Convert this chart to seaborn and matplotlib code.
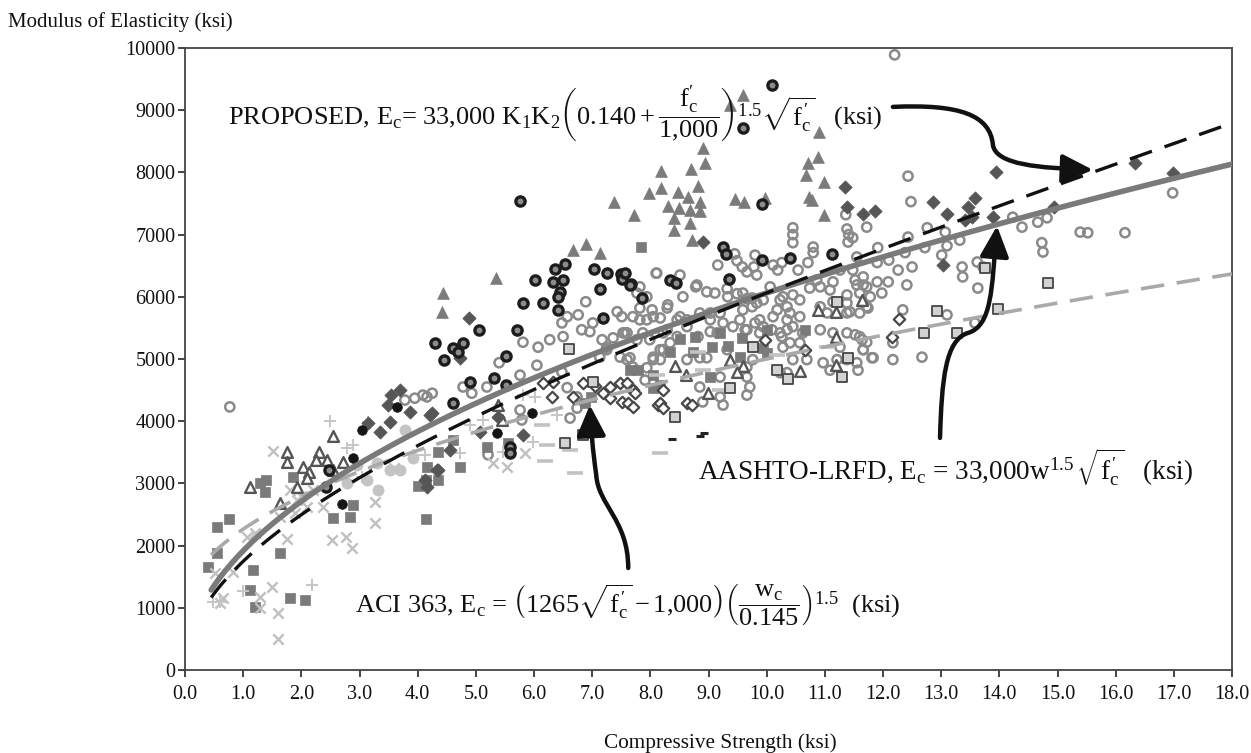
import numpy as np
import pandas as pd
import matplotlib
matplotlib.use("Agg")
import matplotlib.pyplot as plt
from matplotlib.path import Path
from matplotlib.patches import FancyArrowPatch
import seaborn as sns

# ---------------------------------------------------------------- data (ksi)
gray_rings = [
    (11.36, 7320), (10.45, 7110), (10.45, 7000), (10.45, 6870), (11.38, 7090), (11.41, 7000),
    (11.40, 6880), (10.80, 6800), (10.80, 6710), (9.45, 6690), (9.16, 6510), (9.80, 6670),
    (9.78, 6480), (9.49, 6580), (9.58, 6480), (9.66, 6400), (9.83, 6350), (10.11, 6510),
    (10.19, 6430), (10.26, 6550), (10.54, 6430), (10.71, 6550), (10.86, 6270), (11.14, 6240),
    (11.26, 6430), (11.48, 6430), (8.11, 6380), (8.51, 6350), (8.80, 6190), (8.97, 6080),
    (9.11, 6060), (9.33, 6000), (7.77, 6060), (7.43, 5760), (7.51, 5680), (7.82, 5820),
    (8.03, 5790), (8.29, 5820), (9.59, 6060), (9.75, 5980), (9.75, 5840), (9.94, 5950),
    (10.23, 5950), (10.35, 5840), (10.45, 6030), (10.57, 5950), (10.40, 5740), (10.57, 5680),
    (10.74, 6140), (10.92, 6160), (11.09, 6110), (11.38, 6030), (11.55, 6190), (9.59, 5790),
    (9.54, 5630), (9.88, 5630), (10.11, 5680), (9.20, 5740), (9.03, 5630), (8.85, 5740),
    (8.63, 5630), (8.46, 5630), (8.17, 5660), (7.94, 5630), (7.70, 5680), (8.29, 5470),
    (7.87, 5420), (7.53, 5420), (7.25, 5190), (8.34, 5260), (9.15, 5420), (9.42, 5520),
    (9.66, 5470), (9.88, 5420), (10.23, 5420), (10.62, 5420), (10.92, 5470), (11.14, 5420),
    (11.38, 5420), (11.38, 5740), (11.04, 5740), (9.32, 5150), (10.28, 5190), (10.57, 5260),
    (11.26, 5190),
    (8.78, 6160), (9.32, 6130), (9.49, 6050), (9.66, 5970), (9.83, 5900), (10.06, 6160),
    (10.28, 6000), (10.18, 5790), (10.35, 5630), (11.72, 6160), (11.38, 5900), (11.43, 5760),
    (11.60, 5740), (11.72, 5840), (7.60, 5420), (7.82, 5630), (8.05, 5680), (8.51, 5680),
    (9.03, 5740), (7.82, 6160), (7.94, 6000), (8.30, 5870), (8.56, 6000), (8.22, 5420),
    (8.46, 5360), (8.63, 5520), (8.82, 5360), (9.03, 5440), (9.25, 5580), (9.63, 5470),
    (9.80, 5580), (9.94, 5520), (10.09, 5470), (10.35, 5470), (10.45, 5520), (10.26, 5360),
    (10.40, 5260), (10.69, 4990), (10.45, 4990), (10.35, 4780), (10.23, 4780), (9.76, 4990),
    (9.66, 4870), (9.66, 4710), (9.20, 4710), (8.85, 4550), (9.20, 4390), (9.25, 4260),
    (8.90, 4310), (9.66, 4420), (9.71, 4550), (8.63, 4990), (8.85, 5020), (8.97, 5020),
    (8.22, 5150), (8.05, 4990), (7.91, 4660), (7.70, 4500), (7.60, 4990), (10.97, 4940),
    (11.09, 4820), (11.21, 4990), (11.38, 4990), (11.55, 4940), (11.57, 4820), (11.60, 5360),
    (11.72, 5270), (11.81, 5020), (11.66, 5150), (10.92, 5840), (11.14, 5920),
    (12.43, 7940), (12.48, 7530), (12.76, 7110), (13.07, 7040), (13.10, 6820), (13.01, 6670),
    (13.32, 6910), (12.72, 6790), (12.43, 6960), (12.38, 6710), (12.10, 6590), (11.91, 6790),
    (11.55, 6640), (11.48, 6950), (11.72, 7120), (12.50, 6480), (12.26, 6430), (11.90, 6550),
    (11.66, 6320), (11.52, 6270), (11.66, 6190), (11.90, 6240), (12.09, 6240), (12.41, 6190),
    (13.36, 6480), (13.37, 6320), (13.62, 6560), (13.72, 6480), (13.63, 6140), (14.23, 7280),
    (14.39, 7120), (14.66, 7200), (14.82, 7270), (14.73, 6870), (14.75, 6720), (15.39, 7040),
    (15.52, 7030), (11.60, 6060), (11.78, 6000), (11.98, 6060), (11.74, 5820), (12.34, 5790),
    (13.10, 5710), (13.58, 5580), (11.52, 5390), (11.64, 5310), (12.17, 5260), (11.66, 5150),
    (11.83, 5020), (12.17, 4990), (12.67, 5030), (16.98, 7670), (16.16, 7030), (12.20, 9890),
    (8.10, 6380), (6.89, 5920), (7.01, 5580), (6.76, 5710), (6.57, 5680), (6.48, 5580),
    (6.50, 5360), (6.82, 5470), (6.96, 5440), (7.17, 5310), (7.36, 5340), (7.56, 5420),
    (7.77, 5310), (7.99, 5310), (8.17, 5150), (8.05, 5030), (7.25, 5150), (7.13, 5030),
    (7.48, 5030), (7.65, 5020), (5.81, 5270), (6.07, 5190), (6.27, 5310), (5.40, 4940),
    (5.76, 4740), (6.05, 4900), (6.48, 4790), (6.57, 4540), (6.74, 4390), (4.78, 4550),
    (4.93, 4450), (4.16, 4390), (4.25, 4450), (5.19, 4550), (5.79, 4020), (5.76, 4180),
    (5.21, 3460), (6.62, 4050), (6.74, 4210), (7.70, 4870), (7.94, 4860), (8.17, 4990),
    (0.77, 4230), (3.78, 4340), (3.95, 4370), (4.09, 4420),
]

dark_rings = [
    (6.53, 6530), (6.36, 6450), (7.03, 6450), (7.25, 6380), (6.02, 6270), (6.33, 6240),
    (6.50, 6270), (7.50, 6370), (7.51, 6290), (7.67, 6210), (7.13, 6130), (5.81, 5900),
    (6.15, 5900), (6.45, 6080), (6.41, 6000), (6.41, 5790), (7.86, 5980), (5.05, 5470),
    (5.71, 5470), (7.19, 5660), (4.30, 5260), (4.78, 5260), (4.60, 5180), (4.70, 5110),
    (4.45, 4980), (5.52, 5050), (5.52, 4580), (5.31, 4690), (4.90, 4630), (4.60, 4290),
    (5.59, 3590), (5.59, 3490), (9.59, 8710), (9.92, 7490), (9.25, 6800), (9.30, 6690),
    (9.92, 6590), (10.40, 6620), (11.12, 6690), (7.56, 6380), (7.65, 6190), (8.34, 6270),
    (8.44, 6220), (9.35, 6290), (5.76, 7540), (10.10, 9400), (2.48, 3220), (2.42, 2940),
]

dark_dots = [
    (2.70, 2670), (2.89, 3410), (3.64, 4230), (5.97, 4130), (5.36, 3810), (3.04, 3860),
]

gray_triangles = [
    (5.35, 6300), (4.44, 6060), (4.42, 5760), (6.67, 6750), (7.13, 6700), (8.90, 8390),
    (8.94, 8150), (8.18, 8020), (8.70, 8050), (8.18, 7750), (7.98, 7670), (7.37, 7520),
    (7.72, 7310), (8.47, 7680), (8.82, 7780), (8.65, 7600), (8.30, 7460), (8.49, 7430),
    (8.68, 7400), (8.85, 7520), (8.85, 7380), (8.41, 7270), (8.68, 7190), (8.41, 7070),
    (8.72, 6910), (9.45, 7570), (9.61, 7520), (10.90, 8650), (10.88, 8250), (10.71, 8150),
    (10.68, 7960), (10.98, 7850), (10.73, 7600), (10.78, 7560), (10.98, 7310), (9.37, 9080),
    (9.60, 9250), (9.97, 7590), (6.90, 6850),
]

open_triangles = [
    (10.88, 5790), (11.19, 5760), (11.64, 5950), (11.19, 5360), (11.19, 4900), (10.57, 4810),
    (9.37, 4990), (9.59, 4890), (9.49, 4790), (8.42, 4890), (8.61, 4740), (8.99, 4450),
    (5.45, 4020), (5.38, 4260), (2.54, 3760), (1.75, 3500), (1.75, 3340), (2.03, 3260),
    (2.13, 3180), (2.30, 3500), (2.44, 3380), (2.25, 3380), (2.10, 3090), (1.12, 2940),
    (1.63, 2690), (2.54, 3220), (2.72, 3340), (1.93, 2940),
]

light_squares = [
    (12.93, 5770), (13.98, 5800), (12.70, 5420), (13.27, 5420), (13.75, 6460), (14.84, 6220),
    (9.76, 5190), (11.40, 5020), (11.29, 4710), (10.37, 4680), (9.37, 4540), (8.42, 4070),
    (11.21, 5920), (6.60, 5160), (7.01, 4630), (6.84, 3780), (6.53, 3650), (10.18, 4820),
]

open_diamonds = [
    (6.84, 4620), (7.05, 4570), (7.31, 4550), (7.48, 4620), (7.70, 4500), (7.51, 4310),
    (7.62, 4290), (7.19, 4450), (7.31, 4370), (6.33, 4630), (6.15, 4620), (6.67, 4390),
    (6.31, 4390), (8.13, 4260), (8.22, 4500), (7.60, 4620), (7.74, 4450), (7.70, 4230),
    (8.17, 4290), (8.22, 4210), (8.63, 4290), (8.72, 4260), (10.66, 5150), (9.97, 5310),
    (12.27, 5640), (12.15, 5360),
]

gray_squares = [
    (0.55, 2300), (0.76, 2430), (0.40, 1660), (0.55, 1880), (1.17, 1610), (1.12, 1290),
    (1.20, 1010), (1.81, 1160), (2.06, 1130), (1.29, 3010), (1.39, 3060), (1.38, 2860),
    (1.63, 1880), (1.86, 3100), (2.54, 2440), (2.84, 2460), (2.89, 2650), (4.14, 2430),
    (4.14, 3060), (4.16, 3260), (4.01, 2960), (4.35, 3510), (4.73, 3260), (4.61, 3700),
    (4.35, 3060), (5.55, 3650), (5.19, 3590), (6.88, 4290), (6.98, 4390), (8.05, 4740),
    (8.17, 4580), (7.84, 6800), (8.77, 5360), (8.51, 5320), (9.06, 5190), (9.33, 5210),
    (9.54, 5030), (8.73, 5110), (8.34, 5110), (9.20, 5420), (9.58, 5340), (9.94, 5180),
    (10.01, 5100), (10.01, 5470), (10.66, 5470), (9.03, 4710), (8.05, 4540), (7.79, 4820),
    (7.65, 4820),
]

dark_diamonds = [
    (3.54, 4420), (3.70, 4500), (3.49, 4260), (3.87, 4150), (3.52, 3990), (4.21, 4100),
    (4.16, 2940), (4.33, 3220), (3.15, 3970), (3.35, 3830), (4.88, 5660), (4.73, 5020),
    (4.25, 4130), (4.56, 3540), (4.35, 3220), (4.13, 3060), (5.81, 3780), (5.38, 4070),
    (5.07, 3830), (8.90, 6880), (11.35, 7770), (11.38, 7450), (13.94, 8010), (12.86, 7530),
    (13.10, 7330), (13.46, 7450), (13.58, 7590), (13.53, 7280), (13.41, 7240), (13.89, 7280),
    (11.66, 7330), (11.86, 7380), (13.03, 6510), (14.94, 7450), (16.33, 8150), (16.98, 7990),
]

light_dots = [
    (3.32, 2890), (3.52, 3220), (3.70, 3220), (3.92, 3410), (3.78, 3860), (3.30, 3330),
    (3.13, 3060), (2.78, 3010), (2.95, 3300),
]

light_crosses = [
    (1.51, 3520), (1.60, 500), (1.60, 920), (1.29, 1170), (1.50, 1340), (1.29, 1000),
    (0.65, 1160), (0.60, 1080), (0.52, 1560), (2.53, 2090), (2.77, 2140), (2.87, 1960),
    (3.27, 2360), (3.27, 2700), (2.37, 2620), (1.75, 2110), (3.60, 3250), (1.81, 2890),
    (1.93, 2730), (1.89, 2520), (2.10, 2620), (1.63, 2460), (1.07, 2140), (1.20, 2200),
    (0.83, 1580), (2.00, 2800), (2.20, 2900), (5.30, 3330), (5.53, 3260), (5.85, 3490),
]

light_plus = [
    (2.49, 4000), (3.15, 3990), (2.18, 1370), (1.00, 1270), (0.48, 1090), (3.04, 3100),
    (2.78, 3570), (2.89, 3620), (3.92, 3460), (4.13, 3460), (4.90, 3940), (5.12, 4020),
    (5.98, 3670), (6.40, 4100), (5.47, 3510), (5.81, 4420), (6.02, 4390), (4.73, 3490),
    (0.60, 1100),
]

light_dashes = [
    (6.14, 3940), (6.19, 3360), (6.70, 3170), (6.62, 3540), (8.17, 3490), (6.22, 3620),
    (8.11, 4740), (8.90, 4820), (8.82, 5110), (9.20, 4500), (10.18, 5070), (11.04, 5190),
]

dark_dashes = [(8.37, 3710), (8.85, 3760), (8.93, 3810)]

# marker styles per group: marker, size, face, edge, edge width
styles = {
    "gray_rings":     ("o", 44, "none", "#8a8a8a", 1.8, gray_rings),
    "gray_squares":   ("s", 48, "#7a7a7a", "#7a7a7a", 0.5, gray_squares),
    "light_crosses":  ("x", 55, "#c0c0c0", None, 1.7, light_crosses),
    "light_plus":     ("+", 75, "#c6c6c6", None, 1.4, light_plus),
    "light_dots":     ("o", 65, "#c4c4c4", "#c4c4c4", 0.5, light_dots),
    "light_dashes":   ("_", 130, "#c2c2c2", None, 2.6, light_dashes),
    "open_diamonds":  ("D", 34, "white", "#474747", 1.6, open_diamonds),
    "open_triangles": ("^", 60, "white", "#555555", 1.7, open_triangles),
    "light_squares":  ("s", 44, "#d2d2d2", "#454545", 1.3, light_squares),
    "dark_diamonds":  ("D", 46, "#565656", "#565656", 0.5, dark_diamonds),
    "gray_triangles": ("^", 72, "#7b7b7b", "#7b7b7b", 0.5, gray_triangles),
    "dark_rings":     ("o", 44, "#8c8c8c", "#1c1c1c", 2.4, dark_rings),
    "dark_dots":      ("o", 48, "#151515", "#151515", 0.5, dark_dots),
    "dark_dashes":    ("_", 40, "#222222", None, 2.2, dark_dashes),
}

# design equations (f'c in ksi)
fc = np.linspace(0.45, 18.0, 300)
w_aashto = 0.150
w_aci = 0.145
proposed = 33000 * (0.140 + fc / 1000) ** 1.5 * np.sqrt(fc)
aashto = 33000 * w_aashto ** 1.5 * np.sqrt(fc)
aci363 = (1265 * np.sqrt(fc) + 1000) * (w_aci / 0.145) ** 1.5
curves = pd.DataFrame({"fc": fc, "proposed": proposed, "aashto": aashto, "aci363": aci363})

x_ticks = np.arange(0, 19, 1)
y_ticks = np.arange(0, 10001, 1000)

# ---------------------------------------------------------------- figure
sns.set_theme(style="ticks")
plt.rcParams["font.family"] = ["Liberation Serif", "DejaVu Serif"]
plt.rcParams["mathtext.fontset"] = "custom"
plt.rcParams["mathtext.rm"] = "Liberation Serif"
plt.rcParams["mathtext.it"] = "Liberation Serif:italic"
plt.rcParams["mathtext.bf"] = "Liberation Serif:bold"

W, H = 1251, 753
fig = plt.figure(figsize=(W / 100, H / 100), dpi=100)
ax = fig.add_axes([185 / W, 83 / H, (1232 - 185) / W, (670 - 48) / H])

for name, (mk, size, face, edge, lw, pts) in styles.items():
    df = pd.DataFrame(pts, columns=["strength", "modulus"])
    kw = dict(marker=mk, s=size, linewidth=lw, zorder=2)
    if edge is None:
        kw.update(color=face, edgecolor=None)
    else:
        kw.update(color=edge, facecolor=face, edgecolor=edge)
    sns.scatterplot(data=df, x="strength", y="modulus", ax=ax, legend=False, **kw)

sns.lineplot(data=curves, x="fc", y="aci363", ax=ax, color="#a9a9a9", lw=2.6,
             zorder=3).lines[-1].set_dashes((6.5, 3.5))
sns.lineplot(data=curves, x="fc", y="aashto", ax=ax, color="#7a7a7a", lw=4.0, zorder=4)
sns.lineplot(data=curves, x="fc", y="proposed", ax=ax, color="#111111", lw=2.4,
             zorder=5).lines[-1].set_dashes((7, 4))

ax.set_xlim(0, 18)
ax.set_ylim(0, 10000)
ax.set_xticks(x_ticks)
ax.set_xticklabels([f"{v:.1f}" for v in x_ticks])
ax.set_yticks(y_ticks)
ax.set_yticklabels([f"{v:d}" for v in y_ticks])
ax.tick_params(axis="x", length=5, width=1.1, pad=6, labelsize=14.5, colors="#111111")
ax.tick_params(axis="y", length=5, width=1.1, pad=2, labelsize=14.5, colors="#111111")
for side in ["left", "bottom", "top", "right"]:
    ax.spines[side].set_visible(True)
    ax.spines[side].set_color("#444444")
    ax.spines[side].set_linewidth(1.3)
ax.set_xlabel("")
ax.set_ylabel("")

fig.text(8 / W, 1 - 22 / H, "Modulus of Elasticity (ksi)", ha="left", va="center",
         fontsize=15, color="#111111")
fig.text(720 / W, 1 - 743 / H, "Compressive Strength (ksi)", ha="center", va="center",
         fontsize=15.3, color="#111111")

ax.text(0.74, 8930,
        r"PROPOSED, E$_\mathrm{c}$= 33,000 K$_1$K$_2$"
        r"$\left(0.140+\dfrac{\mathrm{f}^{\prime}_{\mathrm{c}}}{1{,}000}\right)^{1.5}"
        r"\sqrt{\mathrm{f}^{\,\prime}_{\mathrm{c}}}$   (ksi)",
        fontsize=19, va="center", ha="left", color="#111111", zorder=6)
ax.text(8.82, 3250,
        r"AASHTO-LRFD, E$_\mathrm{c}$ = 33,000$\mathrm{w}^{1.5}\,"
        r"\sqrt{\mathrm{f}^{\,\prime}_{\mathrm{c}}}$   (ksi)",
        fontsize=19.5, va="center", ha="left", color="#111111", zorder=6)
ax.text(2.92, 1040,
        r"ACI 363, E$_\mathrm{c}$ = $\left(1265\sqrt{\mathrm{f}^{\,\prime}_{\mathrm{c}}}"
        r"-1{,}000\right)\left(\dfrac{\mathrm{w}_\mathrm{c}}{0.145}\right)^{1.5}$  (ksi)",
        fontsize=19, va="center", ha="left", color="#111111", zorder=6)

# curved call-out arrows
arrow_paths = [
    [(12.17, 9053), (13.32, 9101), (13.84, 8924), (13.89, 8442),
     (13.94, 8120), (14.70, 8072), (15.61, 8040)],
    [(12.98, 3731), (13.01, 4663), (13.07, 5306), (13.46, 5419),
     (13.87, 5532), (13.87, 6110), (13.96, 7140)],
    [(7.62, 1640), (7.62, 2412), (7.10, 2653), (7.07, 3136),
     (7.01, 3538), (6.98, 3859), (6.96, 4261)],
]
codes = [Path.MOVETO] + [Path.CURVE4] * 6
for verts in arrow_paths:
    arr = FancyArrowPatch(path=Path(verts, codes),
                          arrowstyle="-|>,head_length=0.85,head_width=0.4",
                          mutation_scale=22, lw=3.2, color="#111111", zorder=7)
    ax.add_patch(arr)

fig.savefig("out.png", dpi=100)
